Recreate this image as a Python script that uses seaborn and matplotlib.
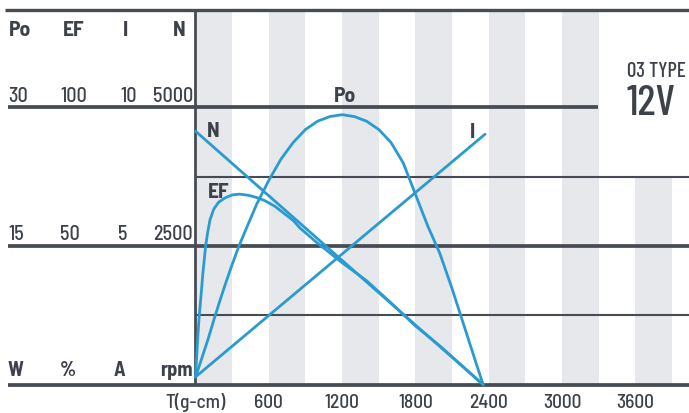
import numpy as np
import pandas as pd
import matplotlib
matplotlib.use('Agg')
import matplotlib.pyplot as plt
import seaborn as sns

# readings (x = torque in g-cm)
torque_po = [0, 100, 150, 200, 250, 300, 350, 400, 500, 600, 700, 800, 900, 1000, 1100, 1200,
             1300, 1400, 1500, 1600, 1700, 1800, 1900, 2000, 2100, 2200, 2300, 2355]
po_w = [0.8, 4.8, 7.0, 9.1, 11.1, 13.0, 14.8, 16.4, 19.5, 22.1, 24.4, 26.2, 27.6, 28.5, 29.0, 29.2,
        29.0, 28.5, 27.6, 26.2, 24.0, 20.6, 17.2, 14.2, 10.4, 6.3, 2.2, 0]

torque_ef = [0, 10, 20, 30, 43, 60, 83, 100, 119, 150, 187, 240, 300, 360, 430, 500, 570, 650,
             700, 800, 855, 1000, 1200, 1400, 1600, 1800, 2000, 2200, 2355]
ef_pct = [2.8, 10.5, 18.0, 24.5, 31.0, 40.0, 50.0, 55.0, 59.5, 63.3, 65.7, 67.3, 68.4, 68.7, 68.3,
          67.5, 66.3, 64.3, 62.6, 59.2, 56.5, 51.0, 44.0, 37.5, 29.5, 21.2, 14.0, 6.1, 0]

torque_n = [0, 2355]
n_rpm = [4570, 0]

torque_i = [0, 2370]
i_amp = [0.28, 9.03]

x_ticks = [0, 600, 1200, 1800, 2400, 3000, 3600]
x_labels = ['T(g-cm)', '600', '1200', '1800', '2400', '3000', '3600']

# left scale table, one row per level of the rpm axis
levels = [5000, 2500, 0]
po_scale = ['30', '15', 'W']
ef_scale = ['100', '50', '%']
i_scale = ['10', '5', 'A']
n_scale = ['5000', '2500', 'rpm']
heads = ['Po', 'EF', 'I', 'N']

BLUE = '#2a9bd0'
GRID = '#474c54'
STRIPE = '#e6e8eb'
TXT = '#3d424a'

sns.set_style('white')
plt.rcParams['font.family'] = ['Barlow Semi Condensed', 'DejaVu Sans']


def tx(px):
    return (px - 195.5) * 600 / 73.3


def uy(py):
    return (385.7 - py) * 5000 / 277.4


fig = plt.figure(figsize=(6.89, 4.14), dpi=100)
ax = fig.add_axes([0, 0, 1, 1])
ax.axis('off')
ax.set_xlim(tx(0), tx(689))
ax.set_ylim(uy(414), uy(0))

top = uy(11)
right = tx(689)

# gray stripes
for k in range(7):
    hi = 3750 if k == 6 else top
    ax.fill_between([k * 600, k * 600 + 300], 0, hi, color=STRIPE, lw=0, zorder=0)

# grid lines
ax.hlines(top, tx(5), right, color=GRID, lw=2.4, zorder=1)
ax.hlines(5000, tx(8), tx(598), color=GRID, lw=2.7, zorder=1)
ax.hlines([2500, 0], tx(8), right, color=GRID, lw=2.7, zorder=1)
ax.hlines([1250, 3750], 0, right, color=GRID, lw=1.5, zorder=1)
ax.vlines(0, 0, top, color=GRID, lw=2.0, zorder=1)

# curves, all drawn on the rpm scale
sns.lineplot(x=torque_n, y=n_rpm, ax=ax, color=BLUE, lw=2.0, zorder=3)
sns.lineplot(x=torque_i, y=np.array(i_amp) * 500, ax=ax, color=BLUE, lw=2.0, zorder=3)
sns.lineplot(x=torque_po, y=np.array(po_w) * 5000 / 30, ax=ax, color=BLUE, lw=2.0, zorder=3)
sns.lineplot(x=torque_ef, y=np.array(ef_pct) * 50, ax=ax, color=BLUE, lw=2.0, zorder=3)

# left table
hd = dict(color=TXT, fontsize=15.5, fontweight='bold', va='baseline')
for h, x, ha in zip(heads, [9, 63, 123, 186], ['left', 'left', 'left', 'right']):
    ax.text(tx(x), uy(36), h, ha=ha, **hd)

row_base = [102, 240.5, 376.5]
for lev, yb, a, b, c, d in zip(levels, row_base, po_scale, ef_scale, i_scale, n_scale):
    kw = dict(color=TXT, fontsize=14.5, va='baseline')
    kw['fontweight'] = 'bold' if lev == 0 else 'medium'
    ax.text(tx(8), uy(yb), a, ha='left', **kw)
    ax.text(tx(60), uy(yb), b, ha='left', **kw)
    ax.text(tx(137) if lev == 5000 else tx(128 if lev else 125), uy(yb), c, ha='right', **kw)
    ax.text(tx(193), uy(yb), d, ha='right', **kw)

# bottom axis labels
for t, lab in zip(x_ticks, x_labels):
    ax.text(t, uy(408.5), lab, ha='center', va='baseline', color=TXT, fontsize=14, fontweight='medium')

# curve names
ax.text(tx(345), uy(102), 'Po', ha='center', **hd)
ax.text(tx(213.5), uy(137), 'N', ha='center', **hd)
ax.text(tx(472.5), uy(138), 'I', ha='center', **hd)
ax.text(tx(219), uy(198), 'EF', ha='center', **hd)

ax.text(tx(656), uy(77), '03 TYPE', ha='center', va='baseline', color=TXT, fontsize=15,
        fontweight='medium', family=['Barlow Condensed', 'DejaVu Sans'])
ax.text(tx(651), uy(115), '12V', ha='center', va='baseline', color=TXT, fontsize=31,
        fontweight='medium', family=['Barlow Condensed', 'DejaVu Sans'])

plt.savefig('out.png', dpi=100)
